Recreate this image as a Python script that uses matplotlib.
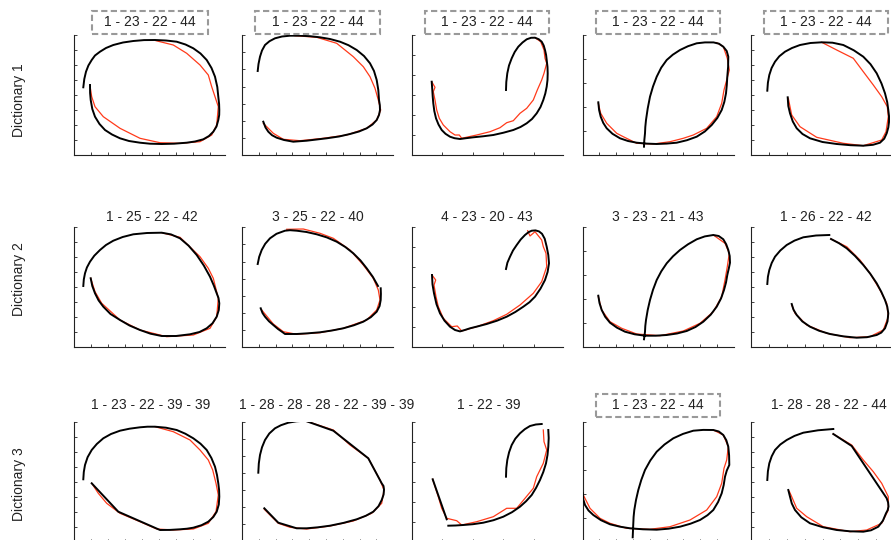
import matplotlib
matplotlib.use("Agg")
import matplotlib.pyplot as plt
from matplotlib.patches import Rectangle
from matplotlib.ticker import MultipleLocator

plt.rcParams['font.family'] = ['Liberation Sans', 'DejaVu Sans']

# --- labels ---
row_labels = ["Dictionary 1", "Dictionary 2", "Dictionary 3"]
titles = [
    ["1 - 23 - 22 - 44"] * 5,
    ["1 - 25 - 22 - 42", "3 - 25 - 22 - 40", "4 - 23 - 20 - 43", "3 - 23 - 21 - 43", "1 - 26 - 22 - 42"],
    ["1 - 23 - 22 - 39 - 39", "1 - 28 - 28 - 28 - 22 - 39 - 39", "1 - 22 - 39", "1 - 23 - 22 - 44",
     "1- 28 - 28 - 22 - 44"],
]
boxed = [[True] * 5, [False] * 5, [False, False, False, True, False]]
x_tick_step = [17, 16.8, 30.6, 16.8, 18]
y_tick_step = [15, 17.1, 20, 24, 15]

# --- trajectories (black = list of strokes, red = one stroke) ---
r1c1_black = [[(16, 70), (16.1, 62), (16.7, 55), (18.3, 46), (21, 38.3), (25.5, 31), (31, 25), (38, 20.5),
               (46, 16.7), (55, 14), (66, 12.3), (76, 11.3), (87.7, 11), (100, 11.3), (112.7, 12.3), (121, 13.5),
               (129.3, 15.7), (135, 19), (139.3, 23.3), (142.5, 28.5), (144.3, 35), (145.2, 40), (145.3, 45),
               (145.1, 51), (144.3, 58.3), (143.3, 68), (141, 78.3), (137.5, 87), (132.7, 95), (126.5, 101.5),
               (119.3, 106.7), (111.5, 110.5), (102.7, 113.3), (92, 114.5), (81, 115), (70, 114.9), (59.3, 114),
               (49, 112.5), (39.3, 110), (32, 107), (26, 103.3), (21, 99.5), (17.7, 95), (14.4, 89.5),
               (12, 83.3), (10.3, 76), (9.3, 67.7)]]
r1c1_red = [(82, 114.3), (99.3, 110), (112.7, 101.7), (126, 90), (134.3, 80), (137.7, 68.3), (141, 58.3),
            (144.3, 48.3), (142.7, 30), (137.7, 20), (126, 13.3), (106, 11.7), (86, 12.3), (66, 16.7),
            (46, 26.7), (29.3, 38.3), (21, 48.3), (17.7, 58.3), (16, 69)]

r1c2_black = [[(21.3, 33.3), (23.5, 27.5), (26.3, 23.3), (30, 19.8), (34.7, 17.3), (42, 15), (51.3, 13.3),
               (64.7, 14.3), (84.7, 16.7), (97, 18.5), (108, 21), (117, 23.5), (124.7, 26.7), (130.5, 30.5),
               (134.7, 35), (137, 40), (138, 45), (137.8, 50), (137, 55), (136.3, 65), (134.7, 75), (132, 84),
               (128, 91.7), (122, 99), (114.7, 105), (106.5, 109.8), (98, 113.3), (88, 116), (78, 117.7),
               (68, 118.8), (58, 119.3), (48, 119.3), (40, 118.5), (33, 116.7), (27.5, 113.8), (23, 110),
               (20, 104.5), (18, 98.3), (16.5, 91), (15.7, 84)]]
r1c2_red = [(53, 119.3), (74.7, 117.7), (94.7, 111.7), (111.3, 98.3), (121.3, 88.3), (128, 78.3), (133, 66.7),
            (136.3, 55), (138.7, 45), (134.7, 35), (124.7, 26.7), (104.7, 20), (81.3, 16.7), (58, 14.3),
            (41.3, 15.7), (31.3, 21.7), (21.3, 31.7)]

r1c3_black = [[(94.5, 65), (94.8, 73), (95.8, 81.7), (97.5, 89.5), (100.2, 96.7), (103.2, 103), (106.8, 108.3),
               (111, 112.5), (115.2, 115.7), (119.5, 117.2), (123.5, 117.3), (127.2, 115.8), (130.2, 113.3),
               (132.2, 109.5), (133.5, 105), (134.6, 100), (135.2, 95), (136, 88), (136.2, 81.7), (136, 75),
               (135.2, 68.3), (133.8, 61.5), (131.8, 55), (129, 48), (125.2, 41.7), (120.5, 36), (115.2, 31.7),
               (109, 28), (101.8, 25), (92, 22.3), (81.8, 20), (71.5, 18.7), (61.8, 17.7), (54.5, 16.8),
               (48.5, 16), (43, 16.8), (38.5, 18.3), (34, 21.2), (30.2, 25), (27, 30.5), (24.5, 36.7),
               (22.8, 44), (21.8, 51.7), (21.2, 58.5), (20.8, 65), (20.2, 73.3)]]
r1c3_red = [(20.2, 73.3), (23.5, 67.7), (21.8, 63.3), (23.5, 55), (25.2, 45), (27.8, 36.7), (31.8, 30),
            (38.5, 23.3), (43.5, 20), (47.8, 20), (50.2, 16.7), (65.2, 20), (78.5, 23.3), (88.5, 27.3),
            (95.2, 32.3), (101.8, 34.3), (108.5, 41.7), (115.2, 46.7), (121.8, 55), (125.8, 65), (130.2, 75),
            (132.5, 81.7), (135.2, 91.7), (133.5, 96.7), (132.5, 105), (129.2, 113.3), (123.5, 117.3)]

r1c4_black = [[(15.8, 52.7), (16.6, 45), (18.2, 38.3), (20.8, 32), (24.2, 26.7), (30, 21.2), (37.5, 16.7),
               (45.5, 14), (54.2, 12.3), (64, 11.4), (74.2, 11), (84, 11.4), (94.2, 12.3), (104.5, 14.8),
               (114.2, 18.3), (122.3, 23.5), (129.2, 30), (134.8, 37), (139.2, 45), (141.8, 53), (143.5, 61.7),
               (144.3, 70), (144.8, 78.3), (145.6, 88), (145.8, 98.3), (144.2, 104), (140.8, 108.3),
               (136.5, 111.3), (131, 112.6), (122.5, 112.6), (114.2, 111.7), (105.5, 108.8), (97.5, 105),
               (90.3, 100.3), (84.2, 95), (78.7, 87.3), (74.2, 78.3), (70.5, 68.5), (67.5, 58.3), (65.2, 46.5),
               (63.5, 35), (62.8, 28), (62.5, 21.7), (61.8, 14.5), (61.5, 8.3)]]
r1c4_red = [(134.2, 112.3), (140.8, 108.3), (144.8, 96.7), (146.8, 85), (144.2, 75), (141.5, 65), (139.2, 51.7),
            (134.2, 38.3), (124.2, 26.7), (110.8, 20), (100.8, 16.7), (87.5, 13.3), (70.8, 11), (54.2, 11.7),
            (40.8, 18.3), (34.2, 21.7), (24.2, 31.7), (18.2, 41.7), (15.8, 51.7)]

r1c5_black = [[(37.2, 57.7), (37.8, 49), (39.5, 41.7), (42.3, 33.5), (46.2, 26.7), (52, 21), (59.5, 16.7),
               (72, 13), (86.2, 11), (100, 9.8), (112.8, 9.3), (122.5, 10.2), (129.5, 12.3), (133.7, 16.3),
               (136.2, 21.7), (137.8, 27.5), (138.5, 33), (138.5, 39), (137.8, 45), (136.7, 53), (134.5, 61.7),
               (131, 71.5), (126.2, 81.7), (120, 90.8), (112.8, 98.3), (103.3, 104.7), (92.8, 110),
               (82, 112.3), (71.2, 112.7), (60, 112), (49.5, 110), (41.5, 107), (34.5, 103.3), (28.8, 98.7),
               (24.5, 93.3), (21.1, 87), (18.8, 80), (17.4, 72.3), (16.8, 64.3)]]
r1c5_red = [(71.2, 112.7), (86.2, 105), (102.8, 96.7), (112.8, 83.3), (122.8, 70), (131.2, 58.3),
            (136.8, 48.3), (137.8, 38.3), (135.5, 23.3), (131.2, 15), (112.8, 9.3), (92.8, 11.7), (66.2, 17.7),
            (49.5, 28.3), (41.2, 40), (37.8, 56.7)]

r2c1_black = [[(16.7, 68.7), (18.3, 61), (21, 53.7), (24.6, 46.6), (29.3, 40.3), (36.5, 33), (46, 27),
               (55.5, 21.5), (66, 17), (76.5, 13.3), (87.7, 11), (102, 11), (116, 12.7), (125.5, 15),
               (132.7, 18.7), (138.5, 23.7), (142.7, 30.3), (144.8, 37), (145.3, 43.7), (144.5, 49),
               (142.7, 53.7), (139.8, 61.5), (136, 70.3), (129.8, 81.5), (122.7, 92), (114.6, 101.3),
               (106, 108.7), (97, 112.6), (87.7, 114.3), (73, 114), (59.3, 112.7), (48.7, 110), (39.3, 106.3),
               (32, 102), (26, 97), (20.3, 91.3), (16, 85.3), (12.9, 79.5), (11, 73.7), (9.8, 67.5), (9.3, 61)]]
r2c1_red = [(87.7, 114.3), (106, 109.7), (126, 90.3), (134.3, 78.7), (139.3, 68.7), (144.3, 48.7),
            (142.7, 30.3), (136, 18.7), (119.3, 12), (92.7, 10.3), (66, 17), (46, 27), (27.7, 43.7),
            (21, 55.3), (16.7, 68.7)]

r2c2_black = [[(18.7, 38.7), (20.5, 34), (23, 30.3), (27, 25.7), (31.3, 22), (36, 18), (40.7, 14.7), (43, 13),
               (54.7, 13), (66, 13.7), (78, 14.7), (90, 16.5), (101.3, 18.7), (111.8, 21.7), (121.3, 25.3),
               (128.8, 29.8), (134.7, 35.3), (137.6, 41), (138.7, 47), (138.9, 53), (138.7, 58.7)],
              [(136, 61), (130.8, 70.2), (124.7, 78.7), (118.5, 86.5), (111.3, 93.7), (103.3, 100),
               (94.7, 105.3), (84.8, 109.6), (74.7, 112.7), (64.5, 115), (54.7, 116.3), (48, 116.8),
               (43, 116.3), (34.5, 113.2), (28, 108.7), (23.2, 103.2), (19.7, 97), (17.2, 90.2), (15.7, 83)]]
r2c2_red = [(44.7, 117.7), (61.3, 118), (78, 113.7), (91.3, 108.7), (108, 97), (121.3, 82), (131.3, 68.7),
            (136.3, 57), (138, 47), (134.7, 37), (124.7, 27), (101.3, 18.7), (78, 14.3), (54.7, 12.7),
            (41.3, 15.3), (31.3, 23), (19.7, 37)]

r2c3_black = [[(94.5, 78), (95.9, 84.3), (98.5, 90.3), (101.5, 96.5), (105.2, 102), (109.2, 107.5),
               (113.5, 112), (117, 114.8), (120.2, 116.3), (124, 116.6), (127.5, 115.6), (130.5, 113.2),
               (133.2, 108.3), (135.2, 100.3), (136.8, 92), (137.5, 83.7), (136.1, 75), (133.5, 67),
               (129, 58.4), (123.5, 50.3), (118, 44.8), (111.8, 40.3), (103.8, 35), (95.2, 30.3), (85.5, 26.3),
               (75.2, 23), (66.5, 20.7), (58.5, 18.7), (53, 16.9), (48.5, 15.6), (43.5, 17), (38.5, 20.3),
               (33, 26.3), (28.5, 33.7), (25, 42.8), (22.5, 53.7), (21, 62.6), (20.5, 72)]]
r2c3_red = [(20.5, 72), (24.2, 67), (22.5, 62), (24.5, 50.3), (26.8, 40.3), (31.8, 28.7), (40.2, 20.3),
            (45.8, 21), (50.2, 16), (65.2, 20.3), (81.8, 26.3), (95.2, 32.7), (108.5, 42), (121.8, 53.7),
            (130.2, 65.3), (135.2, 80.3), (134.5, 93.7), (131.8, 100.3), (130.2, 107), (123.5, 115.3),
            (118.5, 111), (116.2, 116.3)]

r2c4_black = [[(15.8, 51.3), (17, 44), (19.2, 37), (22.7, 30.2), (27.5, 24.3), (34.5, 19.3), (42.5, 15.3),
               (52.2, 12.7), (62.5, 11.3), (73.3, 11.3), (84.2, 12), (94.5, 13.5), (104.2, 16), (113, 20),
               (120.8, 25.3), (128.2, 32.3), (134.2, 40.3), (138.5, 48.5), (141.5, 57), (143.5, 64.5),
               (144.8, 72), (146.3, 78.5), (147.5, 84.3), (147.2, 91), (145.8, 97), (143.7, 102.7),
               (140.8, 107.7), (136.2, 111), (130.8, 112), (122.3, 110.6), (114.2, 107.7), (105.5, 102.7),
               (97.5, 97), (90.5, 90.7), (84.2, 83.7), (78.8, 75.7), (74.2, 67), (70.5, 57.2), (67.5, 47),
               (65.2, 37), (63.5, 27), (62.8, 21), (62.5, 15.3), (62, 11.3), (61.5, 7.7)]]
r2c4_red = [(130.8, 112), (142.5, 103.7), (146.8, 93.7), (144.8, 80.3), (142.5, 67), (139.2, 50.3),
            (130.8, 35.3), (117.5, 23.7), (100.8, 16), (77.5, 11.3), (54.2, 13), (39.2, 18.7), (27.5, 25.3),
            (19.2, 37), (15.8, 50.3)]

r2c5_black = [[(16.8, 63), (17.4, 70.2), (18.8, 77), (21.2, 84), (24.5, 90.3), (29.8, 96.5), (36.2, 102),
               (44, 106.4), (52.8, 109.7), (65.5, 111.5), (78.8, 112)],
              [(80.5, 108), (88.5, 103.8), (96.2, 98.7), (104.6, 91), (112.8, 82), (119.8, 73.2), (126.2, 63.7),
               (130.8, 55.2), (134.5, 47), (136.8, 40.2), (137.8, 33.7), (137, 25.6), (134.5, 18.7),
               (130.8, 14.4), (126.2, 12), (116.5, 9.8), (106.2, 9.3), (92.5, 10.7), (79.5, 13), (68.7, 16.2),
               (59.5, 20.3), (51.8, 25.6), (46.2, 32), (43, 37.3), (41.2, 43)]]
r2c5_red = [(80.5, 108), (96.2, 100.3), (109.5, 87), (119.5, 73.7), (129.5, 57), (136.2, 43.7), (137.8, 30.3),
            (132.8, 17), (119.5, 10.3), (99.5, 9.3), (76.2, 13.7), (56.2, 22), (44.5, 33.7), (41.2, 42)]

r3c1_black = [[(17.7, 58.2), (44.3, 29.8), (86, 11.5), (96, 11.6), (106, 12.2), (113, 12.8), (119.3, 13.8),
               (127.5, 16.3), (134.3, 19.8), (139.3, 24.5), (142.7, 29.8), (144.8, 37), (145.3, 44.8),
               (145.1, 51.5), (144.3, 58.2), (143, 66.5), (141, 74.8), (137.4, 83.5), (132.7, 91.5),
               (126.5, 97.8), (119.3, 103.2), (111.3, 107.8), (102.7, 111.5), (92, 113.8), (81, 114.8),
               (73.5, 114.8), (66, 114.2), (55.5, 112.8), (46, 110.8), (37, 107.5), (29.3, 103.2), (22.8, 97.5),
               (17.7, 91.5), (13.6, 84.3), (11, 76.5), (9.8, 69.5), (9.3, 62.2)]]
r3c1_red = [(81, 114.8), (99.3, 109.8), (116, 101.5), (126, 91.5), (134.3, 81.5), (138.7, 71.5), (142, 58.2),
            (144.3, 46.5), (142, 29.8), (134.3, 18.2), (119.3, 12.5), (99.3, 11.5), (82.7, 12.5), (66, 19.8),
            (46, 28.2), (32.7, 38.2), (24.3, 48.2), (17.7, 58.2)]

r3c2_black = [[(22.3, 33.2), (36.3, 18.8), (54.7, 13.2), (64.7, 13.2), (76, 14.2), (88, 15.8), (101.5, 18.6),
               (114.7, 22.2), (123.8, 25.7), (131.3, 29.8), (136.5, 35.3), (139.7, 41.5), (141.6, 47), (142, 52),
               (141.5, 55.5), (139.7, 58.2), (126.3, 83.2), (91.3, 110.8), (63, 120.8), (54.5, 120.2),
               (46.3, 118.8), (39, 116.3), (33, 113.2), (27.3, 108), (23, 101.5), (20, 94.2), (18, 86.5),
               (16.8, 78), (16.3, 68.8)]]
r3c2_red = [(63, 120.8), (91.3, 111.5), (108, 96.5), (126.3, 83.2), (138, 61.5), (142, 51.5), (139.7, 38.2),
            (129.7, 28.2), (111.3, 20.5), (88, 15.5), (64.7, 12.5), (48, 14.2), (36.3, 18.2), (22.3, 32.2)]

r3c3_black = [[(94.5, 64.8), (94.8, 73.3), (95.8, 81.5), (97.6, 89.3), (100.2, 96.5), (103.8, 102.8),
               (108.5, 108.2), (113.3, 112.3), (118.5, 115.5), (124.3, 117), (130.2, 117.5)],
              [(136.8, 111.5), (137.2, 103.5), (136.8, 94.8), (136, 86.5), (134.5, 78.2), (131.8, 69.5),
               (128.5, 61.5), (124.6, 53.7), (120.2, 46.5), (114.6, 40.3), (108.5, 34.8), (100.5, 29.3),
               (91.8, 24.8), (82, 21.3), (71.8, 18.8), (61.5, 17.3), (51.8, 16.5), (44, 16), (36.8, 15.8)],
              [(21.2, 62.2), (35.2, 22.2)]]
r3c3_red = [(21.2, 62.2), (23.5, 54.8), (26.8, 44.8), (30.2, 33.2), (35.2, 23.2), (45.2, 20.8), (50.2, 16.5),
            (65.2, 19.8), (81.8, 24.8), (95.2, 33.2), (105.2, 33.2), (113.5, 43.2), (121.8, 53.2),
            (125.2, 64.8), (131.8, 78.2), (135.2, 91.5), (132.5, 99.8), (131.8, 111.5)]

r3c4_black = [[(0.2, 48.2), (0.8, 42), (2.5, 36.5), (6, 31), (10.8, 26.5), (18.5, 21.3), (27.5, 17.2),
               (37.5, 14.8), (47.5, 13.2), (60.5, 12.2), (74.2, 11.8), (86, 12.8), (97.5, 14.8), (108, 17.8),
               (117.5, 21.5), (125, 26.3), (130.8, 31.5), (135.6, 39.5), (139.2, 48.2), (141.2, 56.5),
               (142.5, 64.8), (144.3, 71), (146.8, 76.5), (146.6, 86), (145.8, 94.8), (143.8, 101.3),
               (140.8, 106.5), (136.3, 110), (130.8, 111.5), (120.7, 111.6), (110.8, 110.8), (100.5, 107.6),
               (90.8, 103.2), (82, 97), (74.2, 89.8), (67.8, 81), (62.5, 71.5), (58.8, 61.6), (55.8, 51.5),
               (53.5, 41.5), (51.8, 31.5), (51.1, 24.6), (50.8, 18.2), (50.5, 11.2), (50.2, 4.2)]]
r3c4_red = [(130.8, 111.5), (140.8, 106.5), (145.8, 94.8), (144.2, 81.5), (141.5, 73.2), (139.2, 58.2),
            (134.2, 44.8), (124.2, 31.5), (107.5, 21.5), (87.5, 14.8), (67.5, 12.2), (44.2, 13.2), (27.5, 18.2),
            (17.5, 23.2), (7.5, 33.2), (0.8, 46.5)]

r3c5_black = [[(16.8, 61.5), (17.4, 70.2), (18.8, 78.2), (21.2, 85.2), (24.5, 91.5), (29.8, 97), (36.2, 101.5),
               (44, 105.6), (52.8, 108.8), (67.5, 111.2), (82.8, 112.5)],
              [(82.8, 107.5), (101.2, 95.5), (136.2, 43.2), (137.6, 39), (138, 35), (137.2, 31.4),
               (135.5, 28.2), (132.4, 20.8), (127.8, 14.8), (120.5, 11.2), (112.8, 9.8), (99.5, 10.2),
               (86.2, 11.5), (72.3, 14.3), (59.5, 18.2), (50.8, 24.2), (44.5, 31.5), (41.3, 38), (39.5, 44.8),
               (37.8, 51.5)]]
r3c5_red = [(82.8, 107.5), (101.2, 96.5), (112.8, 81.5), (122.8, 69.8), (131.2, 58.2), (137.8, 44.8),
            (137.8, 31.5), (131.2, 18.2), (116.2, 11.5), (99.5, 9.8), (72.8, 14.8), (56.2, 24.8), (46.2, 33.2),
            (41.2, 44.8), (38.8, 50.2)]

black = [[r1c1_black, r1c2_black, r1c3_black, r1c4_black, r1c5_black],
         [r2c1_black, r2c2_black, r2c3_black, r2c4_black, r2c5_black],
         [r3c1_black, r3c2_black, r3c3_black, r3c4_black, r3c5_black]]
red = [[r1c1_red, r1c2_red, r1c3_red, r1c4_red, r1c5_red],
       [r2c1_red, r2c2_red, r2c3_red, r2c4_red, r2c5_red],
       [r3c1_red, r3c2_red, r3c3_red, r3c4_red, r3c5_red]]

# --- layout (pixels) ---
W, H = 891, 540
col_left = [74, 242, 411.5, 582.5, 750.5]
row_bottom = [155, 347, 541.5]
ax_w, ax_h = 151, 120
title_y = [22.5, 216.7, 405]
title_dx = [[0, 0, 0, 0, 0], [2, 0, 0, 0, 0], [1, 9, 2, 0, 3]]
label_y = [100, 279, 484]
box_w = [116, 125, 124, 124, 124]

fig = plt.figure(figsize=(W / 100, H / 100), dpi=100)

for i in range(3):
    for j in range(5):
        ax = fig.add_axes([col_left[j] / W, 1 - row_bottom[i] / H, ax_w / W, ax_h / H])
        rx, ry = zip(*red[i][j])
        ax.plot(rx, ry, color='#ff3a1a', lw=0.9, zorder=2)
        for seg in black[i][j]:
            bx, by = zip(*seg)
            ax.plot(bx, by, color='black', lw=1.4, zorder=3, solid_joinstyle='round')
        ax.set_xlim(0, ax_w)
        ax.set_ylim(0, ax_h)
        ax.xaxis.set_major_locator(MultipleLocator(x_tick_step[j]))
        ax.yaxis.set_major_locator(MultipleLocator(y_tick_step[j]))
        ax.tick_params(direction='in', length=2.5, width=0.6, colors='#222222',
                       labelbottom=False, labelleft=False)
        for s in ['top', 'right']:
            ax.spines[s].set_visible(False)
        for s in ['left', 'bottom']:
            ax.spines[s].set_linewidth(0.8)
            ax.spines[s].set_color('#222222')

        cx = col_left[j] + ax_w / 2
        fig.text((cx + title_dx[i][j]) / W, 1 - title_y[i] / H, titles[i][j], ha='center', va='center',
                 fontsize=10, color='#222222', zorder=5)
        if boxed[i][j]:
            fig.add_artist(Rectangle(((cx - box_w[j] / 2) / W, 1 - (title_y[i] + 11.5) / H),
                                     box_w[j] / W, 23 / H, transform=fig.transFigure,
                                     facecolor='white', edgecolor='#999999', lw=1.5,
                                     linestyle=(0, (3, 1.6)), zorder=1))

    fig.text(19 / W, 1 - label_y[i] / H, row_labels[i], rotation=90, ha='center', va='center',
             fontsize=10, color='#222222')

fig.savefig("out.png", dpi=100)
